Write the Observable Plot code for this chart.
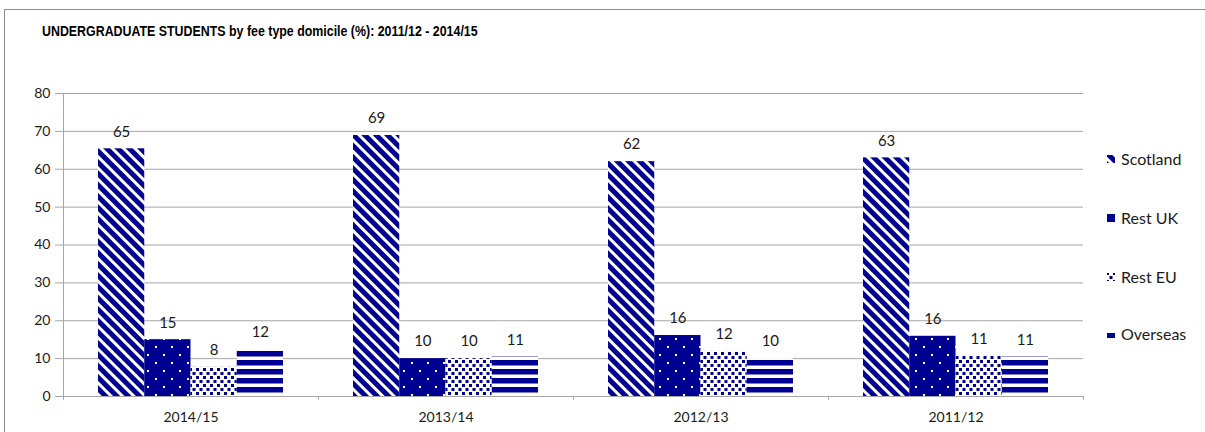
<!DOCTYPE html>
<html><head><meta charset="utf-8">
<script src="https://cdn.jsdelivr.net/npm/d3@7"></script>
<script src="https://cdn.jsdelivr.net/npm/@observablehq/plot@0.6"></script>
<style>
body{margin:0;background:#fff;}
#wrap{position:relative;width:1205px;height:432px;overflow:hidden;background:#fff;}
#wrap svg{position:absolute;left:0;top:0;}
#title{position:absolute;left:42px;top:23px;font:bold 14px "Liberation Sans",Arial,sans-serif;color:#000;white-space:nowrap;z-index:2;transform:scaleX(0.885);transform-origin:0 0;}
</style></head><body>
<div id="wrap"><div id="title">UNDERGRADUATE STUDENTS by fee type domicile (%): 2011/12 - 2014/15</div></div>
<script>
const years = ["2014/15", "2013/14", "2012/13", "2011/12"];
const seriesNames = ["Scotland", "Rest UK", "Rest EU", "Overseas"];
const scotland = [65.4, 68.9, 62.0, 63.0];
const restUK = [15.0, 10.0, 16.1, 15.9];
const restEU = [7.7, 10.0, 11.9, 10.6];
const overseas = [12.4, 10.5, 10.0, 10.5];
const yTicks = [0, 10, 20, 30, 40, 50, 60, 70, 80];

const seriesValues = [scotland, restUK, restEU, overseas];
const rows = [];
seriesNames.forEach((s, i) => years.forEach((y, j) => rows.push({year: y, series: s, si: i, value: seriesValues[i][j]})));

const navy = "#000091";
const grid = "#a6a6a6";
const W = 1205, H = 432;
const mL = 63, mR = 122, mT = 93, mB = 36;
const step = (W - mL - mR) / years.length;
const pIn = 0.2745;
const bw = step * (1 - pIn);
const sw = bw / seriesNames.length;

const marks = [
  Plot.gridY(yTicks, {stroke: grid, strokeOpacity: 1}),
  Plot.axisY(yTicks, {tickSize: 8, tickPadding: 5, stroke: grid, fill: "#1a1a1a", fontSize: 14, label: null}),
  Plot.ruleY([0], {stroke: grid}),
  Plot.ruleX([years[0]], {x: d => d, y1: -1, y2: 80, dx: -step / 2, stroke: grid}),
  Plot.ruleX(years.slice(1), {x: d => d, y1: -1, y2: 0, dx: -step / 2, stroke: grid}),
  Plot.ruleX([years[years.length - 1]], {x: d => d, y1: -1, y2: 0, dx: step / 2, stroke: grid}),
  Plot.axisX({tickSize: 0, tickPadding: 16, fontSize: 14, fill: "#1a1a1a", label: null})
];
seriesNames.forEach((s, i) => {
  const data = rows.filter(r => r.si === i);
  marks.push(Plot.barY(data, {x: "year", y: "value", fill: `url(#pat${i})`, insetLeft: i * sw, insetRight: (seriesNames.length - 1 - i) * sw}));
  marks.push(Plot.text(data, {x: "year", y: "value", text: d => String(Math.round(d.value)), dx: (i - 1.5) * sw, dy: -17, fontSize: 15, fill: "#1a1a1a"}));
});

const chart = Plot.plot({
  width: W, height: H,
  marginLeft: mL, marginRight: mR, marginTop: mT, marginBottom: mB,
  style: {fontFamily: "Lato, 'Open Sans', sans-serif", fontSize: "14px", background: "transparent", overflow: "visible"},
  x: {domain: years, paddingInner: pIn, paddingOuter: pIn / 2, axis: null},
  y: {domain: [0, 80], axis: null},
  marks
});

const svg = d3.select(chart);
const defs = svg.insert("defs", ":first-child");
// Scotland: diagonal stripes
const p0 = defs.append("pattern").attr("id", "pat0").attr("patternUnits", "userSpaceOnUse")
  .attr("width", 8).attr("height", 8).attr("patternTransform", "rotate(-45)");
p0.append("rect").attr("width", 8).attr("height", 8).attr("fill", "#fff");
p0.append("rect").attr("width", 5).attr("height", 8).attr("fill", navy);
// Rest UK: navy with white dots
const p1 = defs.append("pattern").attr("id", "pat1").attr("patternUnits", "userSpaceOnUse")
  .attr("width", 16).attr("height", 16);
p1.append("rect").attr("width", 16).attr("height", 16).attr("fill", navy);
p1.append("rect").attr("x", 3).attr("y", 2).attr("width", 2).attr("height", 2).attr("fill", "#fff");
p1.append("rect").attr("x", 11).attr("y", 10).attr("width", 2).attr("height", 2).attr("fill", "#fff");
// Rest EU: white with navy squares
const p2 = defs.append("pattern").attr("id", "pat2").attr("patternUnits", "userSpaceOnUse")
  .attr("width", 7).attr("height", 8);
p2.append("rect").attr("width", 7).attr("height", 8).attr("fill", "#fff");
p2.append("rect").attr("x", 0).attr("y", 0).attr("width", 3).attr("height", 3).attr("fill", navy);
p2.append("rect").attr("x", 3.5).attr("y", 4).attr("width", 3).attr("height", 3).attr("fill", navy);
// Overseas: horizontal stripes
const p3 = defs.append("pattern").attr("id", "pat3").attr("patternUnits", "userSpaceOnUse")
  .attr("width", 9).attr("height", 9);
p3.append("rect").attr("width", 9).attr("height", 9).attr("fill", "#fff");
p3.append("rect").attr("width", 9).attr("height", 5.5).attr("fill", navy);

// chart border
svg.insert("rect", "defs + *").attr("x", 4.5).attr("y", 9.5).attr("width", W + 10).attr("height", H + 10)
  .attr("fill", "none").attr("stroke", "#8c8c8c");

// legend
const legY = [159, 218, 277, 334];
const leg = svg.append("g").attr("font-family", "Lato, sans-serif").attr("font-size", 16).attr("fill", "#1a1a1a").attr("text-anchor", "start");
seriesNames.forEach((s, i) => {
  leg.append("rect").attr("x", 1107).attr("y", legY[i] - 4).attr("width", 8).attr("height", 8).attr("fill", `url(#pat${i})`);
  leg.append("text").attr("x", 1121).attr("y", legY[i]).attr("dy", "0.35em").text(s);
});

document.getElementById("wrap").appendChild(chart);
</script>
</body></html>
